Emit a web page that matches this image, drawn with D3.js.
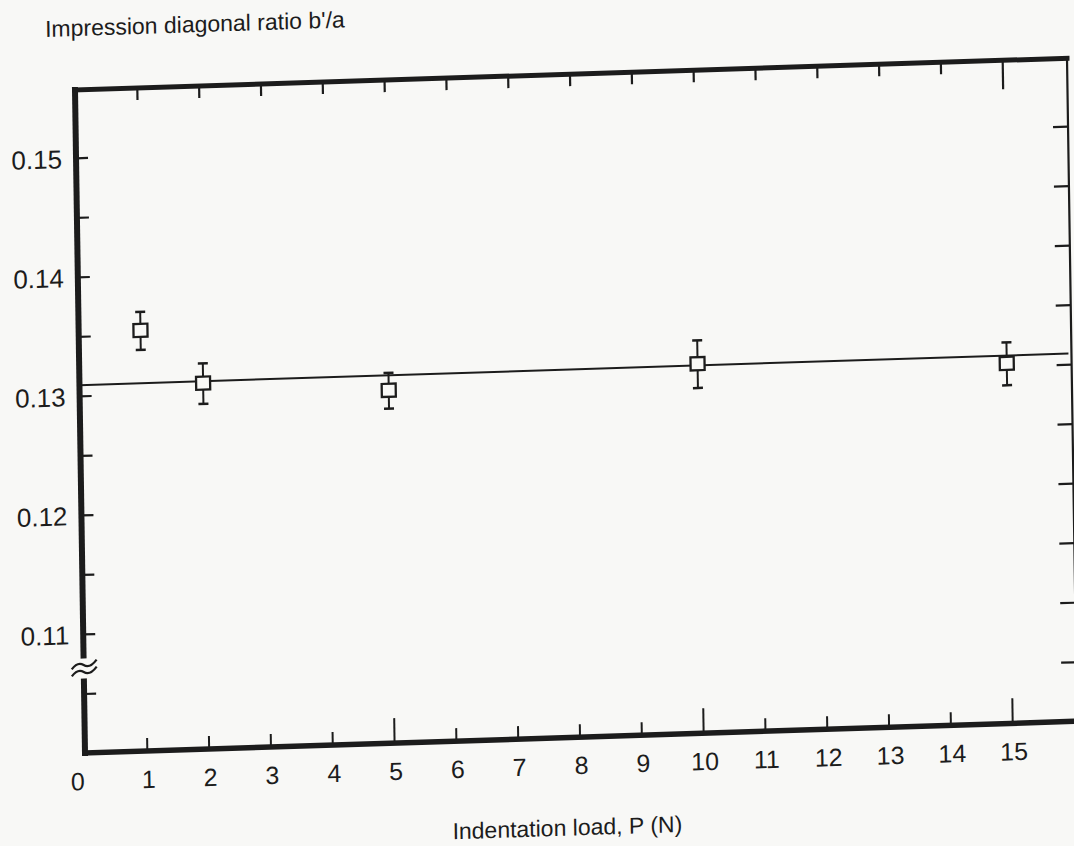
<!DOCTYPE html>
<html>
<head>
<meta charset="utf-8">
<script src="https://cdn.jsdelivr.net/npm/d3@7/dist/d3.min.js"></script>
<style>
  html, body { margin: 0; padding: 0; background: #f8f8f6; }
  svg { display: block; }
  text { font-family: "Liberation Sans", Arial, Helvetica, sans-serif; fill: #1c1c1c; }
</style>
</head>
<body>
<svg id="chart" width="1074" height="846"></svg>
<script>
// ---- data ----
const loads = [1, 2, 5, 10, 15];                       // Indentation load, P (N)
const ratios = [0.1353, 0.1307, 0.1296, 0.1310, 0.1302]; // b'/a
const ratioErrors = [0.0016, 0.0017, 0.0015, 0.0020, 0.0018];
const fitLoads = [0, 16];
const fitRatios = [0.1309, 0.1309];
const xTickValues = [0, 1, 2, 3, 4, 5, 6, 7, 8, 9, 10, 11, 12, 13, 14, 15];
const xTickLabels = ["0", "1", "2", "3", "4", "5", "6", "7", "8", "9", "10", "11", "12", "13", "14", "15"];
const xMajorTicks = [5, 10, 15];
const yTickValues = [0.105, 0.11, 0.115, 0.12, 0.125, 0.13, 0.135, 0.14, 0.145, 0.15];
const yLabelValues = [0.11, 0.12, 0.13, 0.14, 0.15];
const yLabelTexts = ["0.11", "0.12", "0.13", "0.14", "0.15"];
const axisBreakValue = 0.1071;
const xDomain = [0, 16];
const yDomain = [0.10, 0.1557];

// ---- layout ----
const W = 992, H = 663;
const ink = "#1c1c1c", bg = "#f8f8f6";
const svg = d3.select("#chart");
svg.append("rect").attr("width", 1074).attr("height", 846).attr("fill", bg);

// scanned page is slightly rotated / skewed
const g = svg.append("g").attr("transform", "matrix(1,-0.032,0.0151,1,75,90)");

const x = d3.scaleLinear().domain(xDomain).range([0, 989]);
const y = d3.scaleLinear().domain(yDomain).range([H, 0]);

// bottom axis ticks (pointing up) + labels
const bottomAxis = d3.axisBottom(x).tickValues(xTickValues).tickSize(0).tickFormat((d, i) => xTickLabels[i]);
const gb = g.append("g").attr("transform", `translate(0,${H})`).call(bottomAxis);
gb.select(".domain").remove();
gb.selectAll(".tick line")
  .attr("y2", d => d === 0 ? 0 : (xMajorTicks.includes(d) ? -25 : -13))
  .attr("stroke", ink).attr("stroke-width", 2);
gb.selectAll(".tick text").attr("y", 37).attr("dy", 0)
  .attr("dx", d => d === 0 ? -8 : 1)
  .attr("font-size", 25).attr("fill", ink);

// top axis ticks (pointing down)
const topAxis = d3.axisTop(x).tickValues(xTickValues.filter(d => d > 0)).tickSize(0).tickFormat("");
const gt = g.append("g").call(topAxis);
gt.select(".domain").remove();
gt.selectAll(".tick line").attr("y2", d => d === 15 ? 29 : 12)
  .attr("stroke", ink).attr("stroke-width", 2.2);

// left axis ticks + labels
const leftAxis = d3.axisLeft(y).tickValues(yTickValues).tickSize(0)
  .tickFormat(d => { const i = yLabelValues.findIndex(v => Math.abs(v - d) < 1e-9); return i >= 0 ? yLabelTexts[i] : ""; });
const gl = g.append("g").call(leftAxis);
gl.select(".domain").remove();
gl.selectAll(".tick line").attr("x2", 12).attr("stroke", ink).attr("stroke-width", 2.2);
gl.selectAll(".tick text").attr("x", -14).attr("dy", "0.36em")
  .attr("font-size", 26).attr("fill", ink);

// right axis ticks (pointing left)
const rightAxis = d3.axisRight(y).tickValues(yTickValues).tickSize(0).tickFormat("");
const gr = g.append("g").attr("transform", `translate(${W},0)`).call(rightAxis);
gr.select(".domain").remove();
gr.selectAll(".tick line").attr("x2", -15).attr("stroke", ink).attr("stroke-width", 2.2);

// frame
const frame = g.append("g").attr("stroke", ink).attr("fill", "none").attr("stroke-linecap", "square");
frame.append("line").attr("x1", 0).attr("y1", 0).attr("x2", W).attr("y2", 0).attr("stroke-width", 5);
frame.append("line").attr("x1", 0).attr("y1", 0).attr("x2", 0).attr("y2", H).attr("stroke-width", 6);
frame.append("line").attr("x1", 0).attr("y1", H).attr("x2", W).attr("y2", H).attr("stroke-width", 5.5);
frame.append("line").attr("x1", W).attr("y1", 0).attr("x2", W).attr("y2", H).attr("stroke-width", 2.2);

// axis break on the left axis
const yb = y(axisBreakValue);
g.append("rect").attr("x", -5).attr("y", yb - 10).attr("width", 10).attr("height", 20).attr("fill", bg);
[-3.5, 3.5].forEach(off => {
  g.append("path")
    .attr("d", `M-12,${yb + off + 4} Q-6,${yb + off - 4} 0,${yb + off} T13,${yb + off - 5}`)
    .attr("fill", "none").attr("stroke", ink).attr("stroke-width", 2.2);
});

// fitted line
const line = d3.line().x(d => x(d[0])).y(d => y(d[1]));
g.append("path").datum(d3.zip(fitLoads, fitRatios)).attr("d", line)
  .attr("fill", "none").attr("stroke", ink).attr("stroke-width", 2);

// error bars + squares
const pts = loads.map((p, i) => ({ p, r: ratios[i], e: ratioErrors[i] }));
const eb = g.append("g").attr("stroke", ink).attr("fill", "none");
pts.forEach(d => {
  const cx = x(d.p), y1 = y(d.r + d.e), y2 = y(d.r - d.e);
  eb.append("line").attr("x1", cx).attr("x2", cx).attr("y1", y1).attr("y2", y2).attr("stroke-width", 2);
  eb.append("line").attr("x1", cx - 5).attr("x2", cx + 5).attr("y1", y1).attr("y2", y1).attr("stroke-width", 2.5);
  eb.append("line").attr("x1", cx - 5).attr("x2", cx + 5).attr("y1", y2).attr("y2", y2).attr("stroke-width", 2.5);
});
g.append("g").selectAll("rect").data(pts).join("rect")
  .attr("x", d => x(d.p) - 7).attr("y", d => y(d.r) - 7)
  .attr("width", 14).attr("height", 13)
  .attr("fill", bg).attr("stroke", ink).attr("stroke-width", 2.3);

// titles
g.append("text").attr("x", -29).attr("y", -54).attr("font-size", 23)
  .text("Impression diagonal ratio b'/a");
g.append("text").attr("x", 481).attr("y", 761).attr("text-anchor", "middle").attr("font-size", 23)
  .text("Indentation load, P (N)");
</script>
</body>
</html>
